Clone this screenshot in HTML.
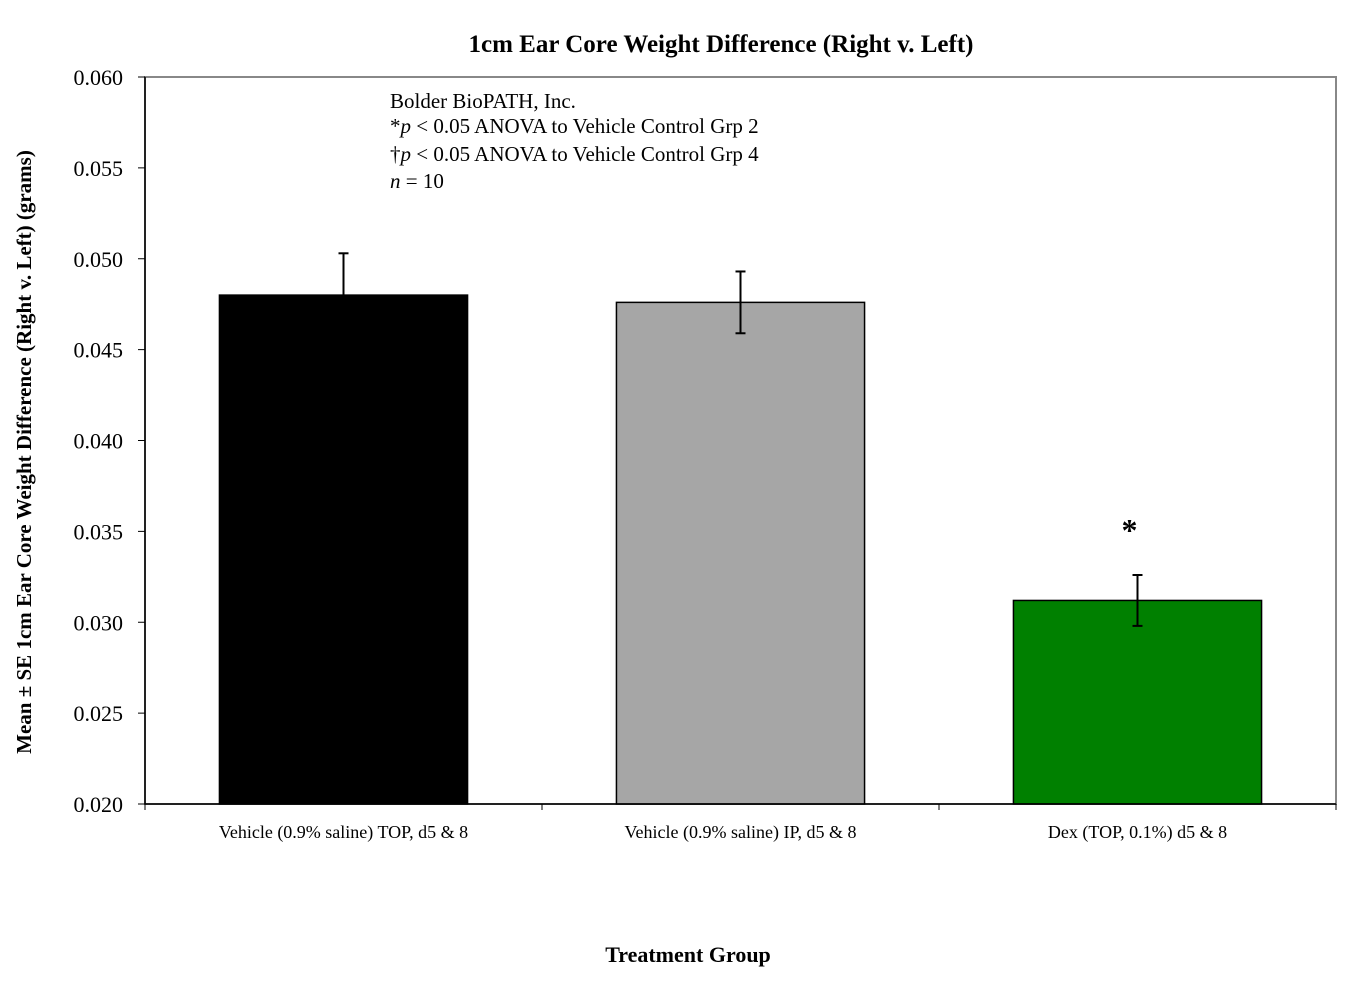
<!DOCTYPE html>
<html><head><meta charset="utf-8"><style>
html,body{margin:0;padding:0;background:#fff;}
svg{display:block;font-family:"Liberation Serif",serif;}
</style></head><body>
<svg id="chart" width="1354" height="986">
<text x="721" y="52" text-anchor="middle" font-size="25" font-weight="bold">1cm Ear Core Weight Difference (Right v. Left)</text>
<rect x="145" y="77" width="1191" height="727" fill="none" stroke="#888" stroke-width="2"/>
<g id="bars"></g>
<g id="axes"></g>
<g font-size="21">
<text x="390" y="108">Bolder BioPATH, Inc.</text>
<text x="390" y="133">*<tspan font-style="italic">p</tspan> &lt; 0.05 ANOVA to Vehicle Control Grp 2</text>
<text x="390" y="161">†<tspan font-style="italic">p</tspan> &lt; 0.05 ANOVA to Vehicle Control Grp 4</text>
<text x="390" y="188"><tspan font-style="italic">n</tspan> = 10</text>
</g>
<text x="0" y="0" transform="translate(31,452) rotate(-90)" text-anchor="middle" font-size="21" font-weight="bold">Mean ± SE 1cm Ear Core Weight Difference (Right v. Left) (grams)</text>
<text x="688" y="962" text-anchor="middle" font-size="22" font-weight="bold">Treatment Group</text>
</svg>
<script>
const categories = ["Vehicle (0.9% saline)  TOP, d5 & 8", "Vehicle (0.9% saline) IP, d5 & 8", "Dex (TOP, 0.1%) d5 & 8"];
const means = [0.0480, 0.0476, 0.0312];
const errors = [0.0023, 0.0017, 0.0014];
const colors = ["#000000", "#a6a6a6", "#008000"];
const sigMarks = ["", "", "*"];
const yTicks = [0.020, 0.025, 0.030, 0.035, 0.040, 0.045, 0.050, 0.055, 0.060];

const NS = "http://www.w3.org/2000/svg";
const X0 = 145, X1 = 1336, Y0 = 804, Y1 = 77, YMIN = 0.020, YMAX = 0.060;
function y(v){ return Y0 - (v - YMIN) / (YMAX - YMIN) * (Y0 - Y1); }
const band = (X1 - X0) / categories.length;
function xc(i){ return X0 + band * (i + 0.5); }
function mk(tag, attrs, parent){ const e = document.createElementNS(NS, tag); for (const k in attrs) e.setAttribute(k, attrs[k]); parent.appendChild(e); return e; }
const gb = document.getElementById("bars"), ga = document.getElementById("axes");
const bw = band * 0.625;
categories.forEach((c, i) => {
  const cx = xc(i);
  const r = mk("rect", {x: cx - bw/2, y: y(means[i]), width: bw, height: Y0 - y(means[i]), fill: colors[i], stroke: "#000", "stroke-width": 1.5}, gb);
  
  
  const eg = mk("g", {stroke: "#000", "stroke-width": 2}, gb);
  
  
  mk("line", {x1: cx, x2: cx, y1: y(means[i] + errors[i]), y2: y(means[i] - errors[i])}, eg);
  mk("line", {x1: cx - 5, x2: cx + 5, y1: y(means[i] + errors[i]), y2: y(means[i] + errors[i])}, eg);
  mk("line", {x1: cx - 5, x2: cx + 5, y1: y(means[i] - errors[i]), y2: y(means[i] - errors[i])}, eg);
  if (sigMarks[i]) {
    const s = mk("text", {x: cx - 8, y: y(means[i] + errors[i]) - 34, "text-anchor": "middle", "font-size": 32, "font-weight": "bold"}, gb);
    s.textContent = sigMarks[i];
    
    
  }
  const t = mk("text", {x: cx, y: 838, "text-anchor": "middle", "font-size": 18}, ga);
  t.textContent = c;
  
  
});
mk("line", {x1: X0, x2: X0, y1: Y1, y2: Y0, stroke: "#000", "stroke-width": 1.5}, ga);
mk("line", {x1: X0, x2: X1, y1: Y0, y2: Y0, stroke: "#000", "stroke-width": 1.5}, ga);
for (let i = 0; i <= categories.length; i++) {
  const x = X0 + band * i;
  mk("line", {x1: x, x2: x, y1: Y0, y2: Y0 + 6, stroke: "#000"}, ga);
}
yTicks.forEach(v => {
  mk("line", {x1: X0 - 7, x2: X0, y1: y(v), y2: y(v), stroke: "#000"}, ga);
  const t = mk("text", {x: 123, y: y(v) + 8, "text-anchor": "end", "font-size": 22}, ga);
  t.textContent = v.toFixed(3);
  
  
});
</script>
</body></html>
